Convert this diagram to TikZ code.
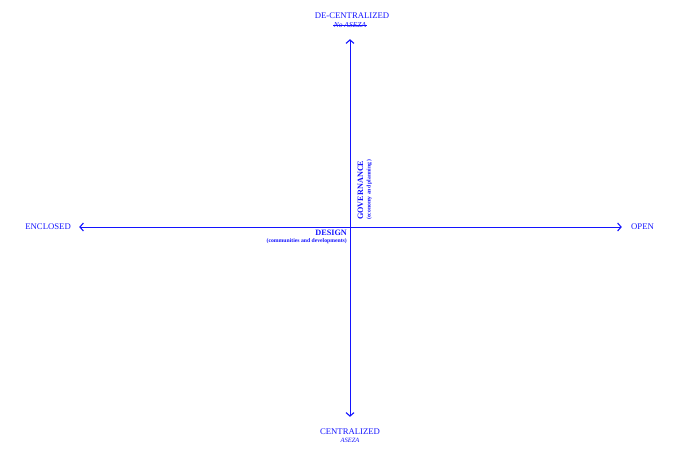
\documentclass[tikz,border=0pt]{standalone}
\usepackage{fontspec}
\setmainfont{Liberation Serif}
\usepackage{xcolor}
\usetikzlibrary{arrows.meta,positioning}
\definecolor{axisblue}{RGB}{20,20,255}

\begin{document}
\begin{tikzpicture}[
    x=1pt, y=-1pt,
    tip/.style={inner sep=0pt, minimum size=0pt},
    axis/.style={axisblue, line width=0.35pt,
        {Straight Barb[length=3.5pt,width=8pt,line width=1.1pt]}-{Straight Barb[length=3.5pt,width=8pt,line width=1.1pt]}},
    pole/.style={text=axisblue, font=\fontsize{8.7}{9}\selectfont, inner sep=0pt},
    sub/.style={text=axisblue, font=\fontsize{6.5}{7}\selectfont\itshape, inner sep=0pt},
    title/.style={text=axisblue, inner sep=0pt, font=\fontsize{5.7}{7.5}\selectfont\bfseries}
]
    \useasboundingbox (0,0) rectangle (700,453);

    % axis ends
    \node[tip] (top) at (350,39) {};
    \node[tip] (bottom) at (350,417) {};
    \node[tip] (left) at (79,227) {};
    \node[tip] (right) at (622,227) {};

    \draw[axis] (bottom) -- (top);
    \draw[axis] (left) -- (right);

    % poles
    \node[pole] (decent) at (352,15.5) {DE-CENTRALIZED};
    \node[sub, font=\fontsize{7.5}{8}\selectfont\itshape] (noaseza) at (350,25.5) {No ASEZA};
    \draw[axisblue, line width=0.45pt] ([xshift=-0.5pt]noaseza.west) -- ([xshift=0.5pt]noaseza.east);
    \node[pole] (cent) at (350,431.5) {CENTRALIZED};
    \node[sub] (aseza) at (350,440) {ASEZA};
    \node[pole, anchor=east] (enclosed) at (71,227) {ENCLOSED};
    \node[pole, anchor=west] (open) at (631,227) {OPEN};

    % quadrant titles
    \node[title, align=right, anchor=north east] (design) at (347,229.5)
        {{\fontsize{8.2}{8}\selectfont DESIGN}\\
         (communities and developments)};
    \node[title, align=left, rotate=90, anchor=north west] (governance) at (357.5,220)
        {{\fontsize{8.2}{8}\selectfont GOVERNANCE}\\
         (economy and planning )};
\end{tikzpicture}
\end{document}
